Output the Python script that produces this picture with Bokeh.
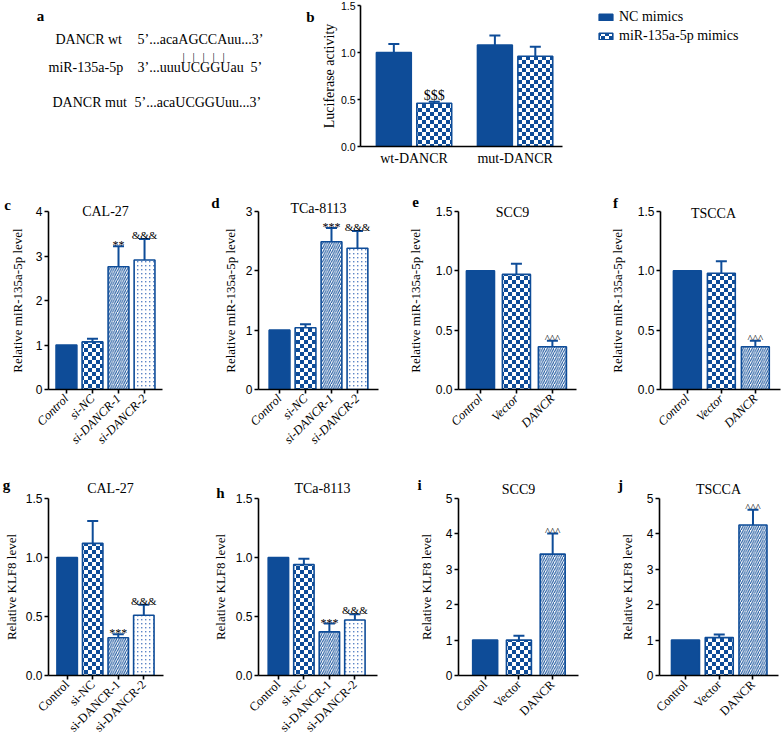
import math
from bokeh.plotting import figure
from bokeh.models import (ColumnDataSource, Range1d, FixedTicker, Label, Whisker, Spacer,
                          TeeHead, Legend, LegendItem, CanvasTexture, PrintfTickFormatter)
from bokeh.layouts import row, column
from bokeh.embed import file_html
from bokeh.resources import INLINE
from bokeh.core.properties import value, field

# ---------------- data ----------------
seq_names = ["DANCR wt", "miR-135a-5p", "DANCR mut"]
seq_texts = ["5\u2019...acaAGCCAuu...3\u2019", "3\u2019...uuuUCGGUau", "5\u2019...acaUCGGUuu...3\u2019"]
seq_tail = "5\u2019"

luc_groups = ["wt-DANCR", "mut-DANCR"]
luc_series = ["NC mimics", "miR-135a-5p mimics"]
luc_nc_mean = [1.00, 1.08]
luc_nc_upper = [1.09, 1.18]
luc_mir_mean = [0.46, 0.96]
luc_mir_upper = [0.475, 1.06]
luc_mir_marks = ["$$$", ""]
luc_ticks = [0.0, 0.5, 1.0, 1.5]

si_groups = ["Control", "si-NC", "si-DANCR-1", "si-DANCR-2"]
oe_groups = ["Control", "Vector", "DANCR"]
si_patterns = ["solid", "checker", "stripes", "dots"]
oe_patterns = ["solid", "checker", "stripes"]

c_mean = [1.00, 1.07, 2.76, 2.91]
c_upper = [1.00, 1.14, 3.22, 3.38]
c_marks = ["", "", "**", "&&&"]
c_ticks = [0, 1, 2, 3, 4]

d_mean = [1.00, 1.04, 2.49, 2.38]
d_upper = [1.00, 1.10, 2.72, 2.67]
d_marks = ["", "", "***", "&&&"]
d_ticks = [0, 1, 2, 3]

e_mean = [1.00, 0.97, 0.36]
e_upper = [1.00, 1.06, 0.41]
e_marks = ["", "", "^^^"]

f_mean = [1.00, 0.98, 0.36]
f_upper = [1.00, 1.08, 0.41]
f_marks = ["", "", "^^^"]

half_ticks = [0.0, 0.5, 1.0, 1.5]

g_mean = [1.00, 1.12, 0.32, 0.51]
g_upper = [1.00, 1.31, 0.35, 0.60]
g_marks = ["", "", "***", "&&&"]

h_mean = [1.00, 0.94, 0.37, 0.47]
h_upper = [1.00, 0.99, 0.44, 0.52]
h_marks = ["", "", "***", "&&&"]

i_mean = [1.00, 1.00, 3.43]
i_upper = [1.00, 1.12, 4.01]
i_marks = ["", "", "^^^"]

j_mean = [1.00, 1.07, 4.25]
j_upper = [1.00, 1.16, 4.68]
j_marks = ["", "", "^^^"]

five_ticks = [0, 1, 2, 3, 4, 5]

panel_letters = ["a", "b", "c", "d", "e", "f", "g", "h", "i", "j"]
panel_titles = ["CAL-27", "TCa-8113", "SCC9", "TSCCA", "CAL-27", "TCa-8113", "SCC9", "TSCCA"]
mir_ylabel = "Relative miR-135a-5p level"
klf_ylabel = "Relative KLF8 level"

# ---------------- styles ----------------
BLUE = "#0E4C98"
DOT = "#5E86C6"
SERIF = "Liberation Serif"
SANS = "Liberation Sans"
W, H = 784, 745

checker_tex = CanvasTexture(code="""
const cv = ctx.canvas;
cv.width = 8; cv.height = 8;
ctx.setTransform(1, 0, 0, 1, 0, 0);
ctx.clearRect(0, 0, 8, 8);
ctx.fillStyle = '%s';
ctx.fillRect(0, 0, 4, 4);
ctx.fillRect(4, 4, 4, 4);
""" % BLUE)
dots_tex = CanvasTexture(code="""
const cv = ctx.canvas;
cv.width = 4; cv.height = 4;
ctx.setTransform(1, 0, 0, 1, 0, 0);
ctx.clearRect(0, 0, 4, 4);
ctx.fillStyle = '%s';
ctx.fillRect(1, 1, 1.4, 1.4);
""" % DOT)
HATCH_EXTRA = {"checker": checker_tex, "dots": dots_tex}

STYLE = {
    "solid":   dict(fill=BLUE,    hatch=" ",       scale=6,   weight=1.0, hcolor=BLUE),
    "checker": dict(fill="white", hatch="checker", scale=8,   weight=1.0, hcolor=BLUE),
    "stripes": dict(fill="white", hatch="/",       scale=4.5, weight=1.0, hcolor=BLUE),
    "dots":    dict(fill="white", hatch="dots",    scale=4,   weight=1.0, hcolor=DOT),
}
MARK_OFF = {"*": -1.0, "&": -4.0, "^": -2.5, "$": -6.0}
MARK_SIZE = {"*": "12px", "&": "11px", "^": "11px", "$": "14px"}


def base_axes(p):
    for ax in (p.xaxis[0], p.yaxis[0]):
        ax.axis_line_width = 1.6
        ax.axis_line_color = "black"
        ax.major_tick_line_width = 1.6
        ax.major_tick_line_color = "black"
        ax.major_tick_in = 0
        ax.major_tick_out = 4
        ax.minor_tick_line_color = None
        ax.major_label_text_color = "black"
    p.xgrid.visible = False
    p.ygrid.visible = False
    p.outline_line_color = None


def add_marks(p, xs, ys, marks):
    idx = [k for k in range(len(marks)) if marks[k]]
    src = ColumnDataSource(dict(
        x=[xs[k] for k in idx], y=[ys[k] for k in idx], t=[marks[k] for k in idx],
        yo=[MARK_OFF[marks[k][0]] for k in idx], fs=[MARK_SIZE[marks[k][0]] for k in idx]))
    p.text(x="x", y="y", text="t", y_offset="yo", text_font_size=field("fs"), source=src,
           text_align="center", text_baseline="alphabetic", text_font=value(SERIF),
           text_color="black")


def add_whiskers(p, xs, lo, hi):
    idx = [k for k in range(len(xs)) if hi[k] > lo[k]]
    src = ColumnDataSource(dict(x=[xs[k] for k in idx], lo=[lo[k] for k in idx],
                                hi=[hi[k] for k in idx]))
    p.add_layout(Whisker(source=src, base="x", lower="lo", upper="hi", dimension="height",
                         line_color=BLUE, line_width=2,
                         upper_head=TeeHead(size=11, line_color=BLUE, line_width=2),
                         lower_head=None))


def bar_panel(cats, mean, upper, marks, ticks, fmt, pats, g, italic, ylabel):
    n = len(cats)
    xs = list(range(n))
    p = figure(width=g["w"], height=g["h"], title=None, toolbar_location=None,
               output_backend="svg",
               x_range=Range1d(-g["pl"], n - 1 + g["pr"]), y_range=Range1d(0, ticks[-1]),
               min_border_left=g["fl"], min_border_right=g["fr"],
               min_border_top=g["ft"], min_border_bottom=g["fb"])
    base_axes(p)
    src = ColumnDataSource(dict(
        x=xs, top=mean,
        fill=[STYLE[s]["fill"] for s in pats], hatch=[STYLE[s]["hatch"] for s in pats],
        hs=[STYLE[s]["scale"] for s in pats], hw=[STYLE[s]["weight"] for s in pats],
        hc=[STYLE[s]["hcolor"] for s in pats]))
    p.vbar(x="x", top="top", bottom=0, width=g["bw"], source=src,
           fill_color=field("fill"), line_color=BLUE, line_width=1.6,
           hatch_pattern=field("hatch"), hatch_scale=field("hs"), hatch_weight=field("hw"),
           hatch_color=field("hc"), hatch_extra=HATCH_EXTRA)
    add_whiskers(p, xs, mean, upper)
    add_marks(p, xs, upper, marks)

    xa, ya = p.xaxis[0], p.yaxis[0]
    xa.ticker = FixedTicker(ticks=xs)
    xa.major_label_overrides = {k: c for k, c in enumerate(cats)}
    xa.major_label_orientation = math.pi / 4
    xa.major_label_text_font = SERIF
    xa.major_label_text_font_size = "12.5px"
    xa.major_label_text_font_style = "italic" if italic else "normal"
    xa.major_label_standoff = 3
    ya.ticker = FixedTicker(ticks=ticks)
    ya.formatter = PrintfTickFormatter(format=fmt)
    ya.major_label_text_font = SANS
    ya.major_label_text_font_size = "12px"
    ya.major_label_standoff = 2
    ya.axis_label = ylabel
    ya.axis_label_text_font = SERIF
    ya.axis_label_text_font_size = "13px"
    ya.axis_label_text_font_style = "normal"
    ya.axis_label_text_color = "black"
    ya.axis_label_standoff = g["ls"]
    return p


# ---------------- panel b ----------------
GB = dict(w=466, h=168, fl=38, fr=0, ft=5, fb=22)
B_UNIT = 102.0
b_x0 = -0.53
b_frame_w = GB["w"] - GB["fl"] - GB["fr"]
pb = figure(width=GB["w"], height=GB["h"], title=None, toolbar_location=None,
            output_backend="svg", x_range=Range1d(b_x0, b_x0 + b_frame_w / B_UNIT),
            y_range=Range1d(0, luc_ticks[-1]),
            min_border_left=GB["fl"], min_border_right=GB["fr"],
            min_border_top=GB["ft"], min_border_bottom=GB["fb"])
base_axes(pb)
gx = list(range(len(luc_groups)))
nc_x = [v - 0.2 for v in gx]
mir_x = [v + 0.2 for v in gx]
r_nc = pb.vbar(x="x", top="top", width=0.345, bottom=0,
               source=ColumnDataSource(dict(x=nc_x, top=luc_nc_mean)),
               fill_color=BLUE, line_color=BLUE, line_width=1.6)
r_mir = pb.vbar(x="x", top="top", width=0.345, bottom=0,
                source=ColumnDataSource(dict(x=mir_x, top=luc_mir_mean)),
                fill_color="white", line_color=BLUE, line_width=1.6,
                hatch_pattern=value("checker"), hatch_extra=HATCH_EXTRA,
                hatch_scale=8, hatch_color=BLUE)
add_whiskers(pb, nc_x, luc_nc_mean, luc_nc_upper)
add_whiskers(pb, mir_x, luc_mir_mean, luc_mir_upper)
add_marks(pb, mir_x, luc_mir_upper, luc_mir_marks)
xa, ya = pb.xaxis[0], pb.yaxis[0]
xa.bounds = (b_x0, b_x0 + 2.0)
xa.ticker = FixedTicker(ticks=gx)
xa.major_label_overrides = {k: c for k, c in enumerate(luc_groups)}
xa.major_tick_out = 0
xa.major_label_text_font = SERIF
xa.major_label_text_font_size = "14px"
xa.major_label_standoff = 4
ya.ticker = FixedTicker(ticks=luc_ticks)
ya.formatter = PrintfTickFormatter(format="%.1f")
ya.major_tick_out = 3
ya.major_label_text_font = SANS
ya.major_label_text_font_size = "10.5px"
ya.major_label_standoff = 2
ya.axis_label = "Luciferase activity"
ya.axis_label_text_font = SERIF
ya.axis_label_text_font_size = "14px"
ya.axis_label_text_font_style = "normal"
ya.axis_label_text_color = "black"
ya.axis_label_standoff = 1
legend = Legend(items=[LegendItem(label=luc_series[0], renderers=[r_nc]),
                       LegendItem(label=luc_series[1], renderers=[r_mir])],
                location=(237, 101), padding=0, margin=0, spacing=0,
                label_height=19, glyph_height=8, glyph_width=17, label_standoff=5,
                border_line_color=None, background_fill_alpha=0,
                label_text_font=SERIF, label_text_font_size="14px",
                label_text_color="black")
pb.add_layout(legend)

# ---------------- panels c-j ----------------
G = {
    "c": dict(w=196, h=290, fl=48, fr=34, ft=43, fb=69, pl=0.69, pr=0.69, bw=0.8,  ls=8),
    "d": dict(w=196, h=290, fl=62, fr=14, ft=43, fb=69, pl=0.81, pr=0.81, bw=0.8,  ls=5),
    "e": dict(w=196, h=290, fl=66, fr=12, ft=43, fb=69, pl=0.61, pr=0.67, bw=0.78, ls=10),
    "f": dict(w=196, h=290, fl=72, fr=4,  ft=43, fb=69, pl=0.79, pr=0.74, bw=0.82, ls=10),
    "g": dict(w=196, h=287, fl=46, fr=33, ft=40, fb=70, pl=0.73, pr=0.77, bw=0.8,  ls=4),
    "h": dict(w=196, h=287, fl=62, fr=15, ft=40, fb=70, pl=0.78, pr=0.887, bw=0.8, ls=5),
    "i": dict(w=196, h=287, fl=66, fr=10, ft=40, fb=70, pl=0.79, pr=0.765, bw=0.74, ls=9),
    "j": dict(w=196, h=287, fl=71, fr=6,  ft=40, fb=70, pl=0.77, pr=0.756, bw=0.83, ls=9),
}

pc = bar_panel(si_groups, c_mean, c_upper, c_marks, c_ticks, "%d", si_patterns, G["c"], True, mir_ylabel)
pd_ = bar_panel(si_groups, d_mean, d_upper, d_marks, d_ticks, "%d", si_patterns, G["d"], True, mir_ylabel)
pe = bar_panel(oe_groups, e_mean, e_upper, e_marks, half_ticks, "%.1f", oe_patterns, G["e"], True, mir_ylabel)
pf = bar_panel(oe_groups, f_mean, f_upper, f_marks, half_ticks, "%.1f", oe_patterns, G["f"], True, mir_ylabel)
pg = bar_panel(si_groups, g_mean, g_upper, g_marks, half_ticks, "%.1f", si_patterns, G["g"], False, klf_ylabel)
ph = bar_panel(si_groups, h_mean, h_upper, h_marks, half_ticks, "%.1f", si_patterns, G["h"], False, klf_ylabel)
pi_ = bar_panel(oe_groups, i_mean, i_upper, i_marks, five_ticks, "%d", oe_patterns, G["i"], False, klf_ylabel)
pj = bar_panel(oe_groups, j_mean, j_upper, j_marks, five_ticks, "%d", oe_patterns, G["j"], False, klf_ylabel)

# ---------------- text overlay (panel a, letters, titles) ----------------
ov = figure(width=W, height=H, title=None, toolbar_location=None, output_backend="svg",
            x_axis_location=None, y_axis_location=None,
            x_range=Range1d(0, 1), y_range=Range1d(0, 1), min_border=0)
ov.outline_line_color = None
ov.background_fill_color = None
ov.border_fill_color = None
ov.xgrid.visible = False
ov.ygrid.visible = False


def ov_label(x, y, text, size, bold=False, align="center"):
    ov.add_layout(Label(x=x, y=H - y, x_units="screen", y_units="screen", text=text,
                        text_font=SERIF, text_font_size=size,
                        text_font_style="bold" if bold else "normal",
                        text_align=align, text_baseline="alphabetic", text_color="black"))


letter_pos = [(40, 15), (310, 16), (7, 204), (215, 202), (415, 201), (615, 202),
              (6, 484), (220, 492), (419, 484), (620, 484)]
title_pos = [(105, 211), (318, 208), (512, 212), (713, 213),
             (110, 488), (322, 488), (518, 489), (718, 489)]
for k, (lx, ly) in enumerate(letter_pos):
    ov_label(lx, ly, panel_letters[k], "15px", bold=True)
for k, (tx, ty) in enumerate(title_pos):
    ov_label(tx, ty, panel_titles[k], "14px")

name_x = [55, 48, 52]
seq_x = [137, 137, 134]
line_y = [39, 66.5, 101.7]
for k in range(3):
    ov_label(name_x[k], line_y[k], seq_names[k], "14px", align="left")
    ov_label(seq_x[k], line_y[k], seq_texts[k], "14px", align="left")
ov_label(250, line_y[1], seq_tail, "14px", align="left")
for bx in [183, 193, 203, 213, 223]:
    ov_label(bx, 55, "|", "11px")

layout = column(row(Spacer(width=W - GB["w"], height=GB["h"]), pb),
                row(pc, pd_, pe, pf), row(pg, ph, pi_, pj),
                row(ov, margin=(-H, 0, 0, 0)))
open("out.html", "w").write(file_html(layout, INLINE))
